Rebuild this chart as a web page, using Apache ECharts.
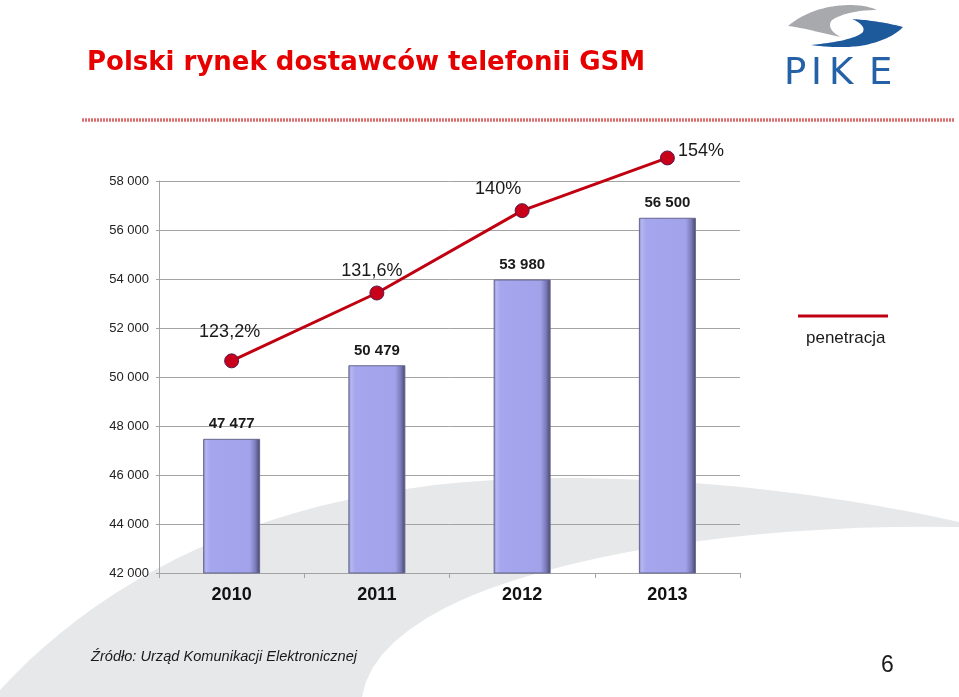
<!DOCTYPE html>
<html><head><meta charset="utf-8">
<script src="https://cdn.jsdelivr.net/npm/echarts@6/dist/echarts.min.js"></script>
<style>html,body{margin:0;padding:0;background:#fff}#c{width:959px;height:697px}</style>
</head><body><div id="c"></div>
<script>
// ---- data ----
const categories = ['2010', '2011', '2012', '2013'];
const subscribers = [47477, 50479, 53980, 56500];          // bar values (thousands)
const penetration = [123.2, 131.6, 140, 154];              // penetration labels (%)
const penetrationPlotted = [123.2, 133.5, 146.0, 154.0];   // point heights as drawn in the original (%)
const yMin = 42000, yMax = 58000, yStep = 2000;
const titleText = 'Polski rynek dostawców telefonii GSM';
const sourceText = 'Źródło: Urząd Komunikacji Elektronicznej';
const seriesName = 'penetracja';
const pageNo = '6';

// ---- styles ----
const lineLabelPlacement = [
  {position: 'top', distance: 12, offset: [-2, 0]},
  {position: 'top', distance: 5, offset: [-5, 0]},
  {position: 'top', distance: 5, offset: [-24, 0]},
  {position: 'right', distance: 3, offset: [0, -7]}
];
const fmtThousands = v => String(v).replace(/\B(?=(\d{3})+(?!\d))/g, ' ');
const gridColor = '#a3a3a3';

// decorative shapes: start point + list of cubic segments [c1x,c1y,c2x,c2y,x,y] or line [x,y]
function shapePoints(start, segs) {
  const pts = [start.slice()];
  let cur = start.slice();
  segs.forEach(s => {
    if (s.length === 2) { pts.push(s.slice()); cur = s.slice(); return; }
    for (let k = 1; k <= 24; k++) {
      const t = k / 24, u = 1 - t;
      pts.push([
        u*u*u*cur[0] + 3*u*u*t*s[0] + 3*u*t*t*s[2] + t*t*t*s[4],
        u*u*u*cur[1] + 3*u*u*t*s[1] + 3*u*t*t*s[3] + t*t*t*s[5]
      ]);
    }
    cur = [s[4], s[5]];
  });
  return pts;
}
const swoosh = shapePoints([0, 697], [[0, 690], [110, 570, 290, 478, 560, 478], [720, 478, 860, 500, 959, 522],
  [959, 527], [700, 522, 380, 575, 362, 697]]);
const logoGray = shapePoints([788, 26], [[800, 16, 815, 9, 835, 6], [852, 4, 866, 5, 877, 10],
  [860, 10, 843, 13, 832, 20], [827, 26, 832, 33, 841, 37], [825, 34, 805, 28, 788, 26]]);
const logoBlue = shapePoints([852, 19], [[870, 20, 888, 23, 903, 27], [895, 36, 878, 43, 860, 46],
  [842, 48, 825, 47, 811, 45], [830, 43, 852, 40, 862, 33], [866, 29, 862, 23, 852, 19]]);

const chart = echarts.init(document.getElementById('c'), null, {renderer: 'canvas'});
const logoFont = '37px "DejaVu Sans", Verdana, sans-serif';
chart.setOption({
  backgroundColor: '#ffffff',
  animation: false,
  grid: {left: 159, right: 219, top: 181, bottom: 124, containLabel: false},
  xAxis: {
    type: 'category', data: categories,
    axisLine: {lineStyle: {color: gridColor, width: 1}},
    axisTick: {show: true, length: 5, lineStyle: {color: gridColor}},
    axisLabel: {margin: 13, fontSize: 18, fontWeight: 'bold', color: '#111', fontFamily: 'Liberation Sans'}
  },
  yAxis: [{
    type: 'value', min: yMin, max: yMax, interval: yStep,
    axisLine: {show: true, lineStyle: {color: gridColor, width: 1}},
    axisTick: {show: true, length: 3, lineStyle: {color: gridColor}},
    splitLine: {show: true, lineStyle: {color: gridColor, width: 1}},
    axisLabel: {margin: 10, fontSize: 13, color: '#222', fontFamily: 'Liberation Sans', formatter: fmtThousands}
  }, {
    type: 'value', min: 91, max: 150.5, show: false,
    splitLine: {show: false}
  }],
  series: [{
    type: 'bar', name: 'abonenci', data: subscribers, barWidth: 57,
    itemStyle: {
      color: {type: 'linear', x: 0, y: 0, x2: 1, y2: 0, colorStops: [
        {offset: 0, color: '#8a8ac4'},
        {offset: 0.05, color: '#b6b6f2'},
        {offset: 0.12, color: '#a6a6ee'},
        {offset: 0.82, color: '#a2a2ea'},
        {offset: 0.92, color: '#7a7ab8'},
        {offset: 1, color: '#44446a'}
      ]},
      borderColor: '#66668e', borderWidth: 1
    },
    label: {show: true, position: 'top', distance: 7, fontSize: 15, fontWeight: 'bold',
      color: '#1a1a1a', fontFamily: 'Liberation Sans', formatter: p => fmtThousands(p.value)}
  }, {
    type: 'line', name: seriesName, yAxisIndex: 1, clip: false, z: 5,
    data: penetrationPlotted.map((v, i) => ({value: v, label: lineLabelPlacement[i]})),
    symbol: 'circle', symbolSize: 14,
    lineStyle: {color: '#c00010', width: 3},
    itemStyle: {color: '#c8001a', borderColor: '#5a1a48', borderWidth: 1},
    label: {show: true, fontSize: 18, color: '#1a1a1a', fontFamily: 'Liberation Sans',
      formatter: p => String(penetration[p.dataIndex]).replace('.', ',') + '%'}
  }],
  graphic: [
    {type: 'polygon', z: -10, silent: true, shape: {points: swoosh}, style: {fill: '#e6e8ea'}},
    {type: 'text', left: 87, top: 50, style: {text: titleText, fill: '#e60000',
      font: 'bold 26px "DejaVu Sans", Verdana, sans-serif'}},
    {type: 'line', silent: true, shape: {x1: 82, y1: 120, x2: 955, y2: 120},
      style: {stroke: '#d04a4a', lineWidth: 3.5, lineDash: [2, 1], opacity: 0.8}},
    {type: 'polygon', silent: true, shape: {points: logoGray}, style: {fill: '#a7a9ac'}},
    {type: 'polygon', silent: true, shape: {points: logoBlue}, style: {fill: '#1d5a9c'}},
    {type: 'text', left: 784, top: 56, style: {text: 'P', fill: '#2461a6', font: logoFont}},
    {type: 'text', left: 811, top: 56, style: {text: 'I', fill: '#2461a6', font: logoFont}},
    {type: 'text', left: 829, top: 56, style: {text: 'K', fill: '#2461a6', font: logoFont}},
    {type: 'text', left: 869, top: 56, style: {text: 'E', fill: '#2461a6', font: logoFont}},
    {type: 'line', shape: {x1: 798, y1: 316, x2: 888, y2: 316}, style: {stroke: '#c00010', lineWidth: 3}},
    {type: 'text', left: 806, top: 330, style: {text: seriesName, fill: '#1a1a1a',
      font: '17px "Liberation Sans", Arial, sans-serif'}},
    {type: 'text', left: 91, top: 649, style: {text: sourceText, fill: '#1a1a1a',
      font: 'italic 14.6px "Liberation Sans", Arial, sans-serif'}},
    {type: 'text', left: 881, top: 654, style: {text: pageNo, fill: '#1a1a1a',
      font: '23px "Liberation Sans", Arial, sans-serif'}}
  ]
});
</script>
</body></html>
